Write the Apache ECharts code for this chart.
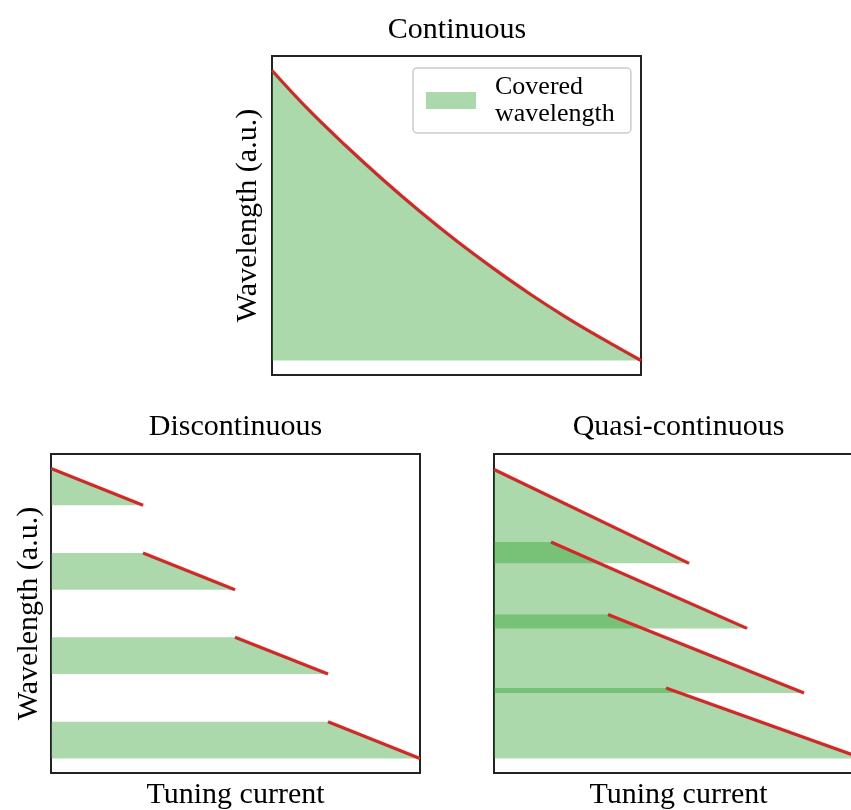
<!DOCTYPE html>
<html>
<head>
<meta charset="utf-8">
<script src="https://cdn.jsdelivr.net/npm/echarts@6/dist/echarts.min.js"></script>
<style>html,body{margin:0;padding:0;background:#fff;}#chart{width:851px;height:810px;}</style>
</head>
<body>
<div id="chart"></div>
<script>
// ---- Data (arbitrary units) ----
// Continuous tuning curve
const contX = [0, 0.37, 0.74, 1.11, 1.48, 1.85, 2.21, 2.58, 2.95, 3.32, 3.69];
const contY = [2.92, 2.52, 2.16, 1.82, 1.50, 1.20, 0.93, 0.67, 0.43, 0.21, 0.00];
// Discontinuous: four separated segments
const discStartX = [0, 0.92, 1.84, 2.77];
const discEndX   = [0.92, 1.84, 2.77, 3.69];
const discStartY = [2.92, 2.07, 1.22, 0.37];
const discEndY   = [2.55, 1.70, 0.85, 0.00];
// Quasi-continuous: four overlapping segments
const quasiStartX = [0, 0.57, 1.14, 1.72];
const quasiEndX   = [1.95, 2.53, 3.10, 3.69];
const quasiStartY = [2.91, 2.18, 1.45, 0.71];
const quasiEndY   = [1.965, 1.31, 0.66, 0.00];

const titles = ['Continuous', 'Discontinuous', 'Quasi-continuous'];
const xLabel = 'Tuning current';
const yLabel = 'Wavelength (a.u.)';
const legendLabel = 'Covered wavelength';

const FONT = "'Liberation Serif', 'DejaVu Serif', serif";
const GREEN = '#2ca02c';
const RED = '#d62728';

const chart = echarts.init(document.getElementById('chart'), null, {renderer: 'canvas'});

function gridDef(left, top) {
  return {left: left, top: top, width: 369, height: 319, show: true,
          borderColor: '#222222', borderWidth: 2, backgroundColor: 'transparent',
          containLabel: false, outerBoundsMode: 'none'};
}
function xAx(i, withName) {
  return {gridIndex: i, type: 'value', min: 0, max: 3.69,
    axisLine: {show: false}, axisTick: {show: false}, axisLabel: {show: false}, splitLine: {show: false},
    name: withName ? xLabel : '', nameLocation: 'middle', nameGap: 7,
    nameTextStyle: {fontFamily: FONT, fontSize: 30, color: '#000'}};
}
function yAx(i, withName, gap) {
  return {gridIndex: i, type: 'value', min: -0.146, max: 3.066,
    axisLine: {show: false}, axisTick: {show: false}, axisLabel: {show: false}, splitLine: {show: false},
    name: withName ? yLabel : '', nameLocation: 'middle', nameGap: gap,
    nameTextStyle: {fontFamily: FONT, fontSize: 30, color: '#000'}};
}

const series = [];
// Continuous panel
series.push({
  name: legendLabel, type: 'line', xAxisIndex: 0, yAxisIndex: 0, symbol: 'none', smooth: 0.4,
  data: contX.map((x, i) => [x, contY[i]]),
  lineStyle: {width: 0}, itemStyle: {color: 'rgba(44,160,44,0.4)'},
  areaStyle: {color: GREEN, opacity: 0.4, origin: 0}, z: 2
});
series.push({
  name: 'contLine', type: 'line', xAxisIndex: 0, yAxisIndex: 0, symbol: 'none', smooth: 0.4,
  data: contX.map((x, i) => [x, contY[i]]),
  lineStyle: {color: RED, width: 3.2}, z: 3
});

function addBands(gi, sx, ex, sy, ey, tag) {
  for (let i = 0; i < sx.length; i++) {
    const pts = [[0, sy[i]]];
    if (sx[i] > 0) pts.push([sx[i], sy[i]]);
    pts.push([ex[i], ey[i]]);
    series.push({
      name: tag + 'Band' + i, type: 'line', xAxisIndex: gi, yAxisIndex: gi, symbol: 'none',
      data: pts, lineStyle: {width: 0},
      areaStyle: {color: GREEN, opacity: 0.4, origin: ey[i]}, z: 2
    });
  }
  for (let i = 0; i < sx.length; i++) {
    series.push({
      name: tag + 'Line' + i, type: 'line', xAxisIndex: gi, yAxisIndex: gi, symbol: 'none',
      data: [[sx[i], sy[i]], [ex[i], ey[i]]],
      lineStyle: {color: RED, width: 3.2}, z: 3
    });
  }
}
addBands(1, discStartX, discEndX, discStartY, discEndY, 'disc');
addBands(2, quasiStartX, quasiEndX, quasiStartY, quasiEndY, 'quasi');

const titleStyle = {fontFamily: FONT, fontSize: 30, fontWeight: 'normal', color: '#000'};

chart.setOption({
  animation: false,
  backgroundColor: '#fff',
  title: [
    {text: titles[0], left: 457, top: 15, textAlign: 'center', padding: 0, textStyle: titleStyle},
    {text: titles[1], left: 235.5, top: 412, textAlign: 'center', padding: 0, textStyle: titleStyle},
    {text: titles[2], left: 678.5, top: 412, textAlign: 'center', padding: 0, textStyle: titleStyle}
  ],
  legend: {
    data: [{name: legendLabel, icon: 'rect', itemStyle: {color: 'rgba(44,160,44,0.4)', borderWidth: 0}}],
    left: 413, top: 68, orient: 'vertical',
    itemWidth: 50, itemHeight: 17,
    padding: [5.5, 16, 5.5, 13],
    backgroundColor: 'rgba(255,255,255,0.8)',
    borderColor: '#cccccc', borderWidth: 1.5, borderRadius: 4,
    formatter: () => 'Covered\nwavelength',
    selectedMode: false,
    textStyle: {fontFamily: FONT, fontSize: 26, lineHeight: 27, color: '#000', padding: [0, 0, 0, 14]}
  },
  grid: [gridDef(272, 56), gridDef(51, 454), gridDef(494, 454)],
  xAxis: [xAx(0, false), xAx(1, true), xAx(2, true)],
  yAxis: [yAx(0, true, 9), yAx(1, true, 7), yAx(2, false, 8)],
  series: series
});
</script>
</body>
</html>
